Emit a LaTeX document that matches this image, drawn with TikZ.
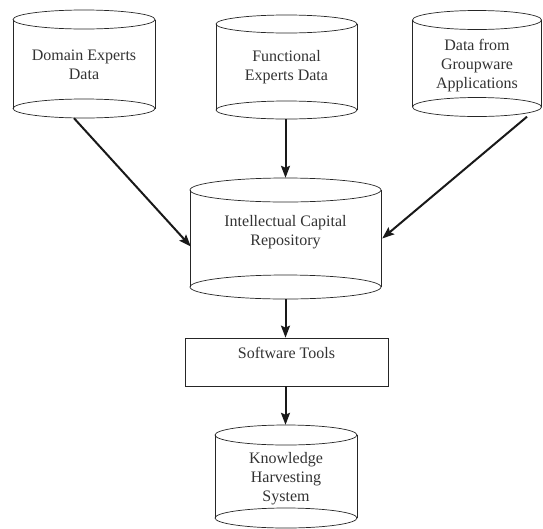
\documentclass[tikz,border=0pt]{standalone}
\usepackage{fontspec}
\setmainfont{Liberation Serif}
\usetikzlibrary{arrows.meta,calc}
\tikzset{
  cylbox/.style={draw=none, rectangle, inner sep=0pt},
  cylline/.style={draw=black!85, line width=0.7pt},
  lbl/.style={font=\fontsize{16}{19}\selectfont, align=center, text=black!80, inner sep=0pt},
  boxnode/.style={draw=black!85, line width=0.7pt, rectangle, inner sep=0pt},
  arr/.style={-{Stealth[length=12pt,width=9pt,inset=2pt]}, line width=2pt, draw=black!90},
}
% name, cx, top cy, bottom cy, rx, ry
\newcommand\dbcyl[6]{%
  \node[cylbox, minimum width={2*#5*1pt}, minimum height={(#4-#3+2*#6)*1pt}] (#1) at (#2,{(#3+#4)/2}) {};
  \draw[cylline] (#2,#3) ellipse[x radius=#5pt, y radius=#6pt];
  \draw[cylline] (#2,#4) ellipse[x radius=#5pt, y radius=#6pt];
  \draw[cylline] (#2-#5,#3) -- (#2-#5,#4) (#2+#5,#3) -- (#2+#5,#4);
}
\begin{document}
\begin{tikzpicture}[x=1pt,y=-1pt]
\useasboundingbox (0,0) rectangle (543,528);
\fill[white] (0,0) rectangle (543,528);

\dbcyl{dom}{84}{19.5}{108.5}{71}{9.5}
\node[lbl] (dom-t) at (84,64.5) {Domain Experts\\Data};

\dbcyl{fun}{286.5}{24}{110}{70.5}{9}
\node[lbl] (fun-t) at (286.5,67) {Functional\\Experts Data};

\dbcyl{gw}{477}{20}{107}{64.5}{9.5}
\node[lbl] (gw-t) at (477,66) {Data from\\Groupware\\Applications};

\dbcyl{ic}{285.5}{190}{287}{95.5}{12}
\node[lbl] (ic-t) at (285.5,232.5) {Intellectual Capital\\Repository};

\node[boxnode, minimum width=203pt, minimum height=48pt] (st) at (286.5,362) {};
\node[lbl] (st-t) at (286.5,353) {Software Tools};

\dbcyl{kh}{286}{435}{518}{71}{10}
\node[lbl] (kh-t) at (286,479) {Knowledge\\Harvesting\\System};

\draw[arr] ($(dom.south)+(-10,0)$) -- ($(ic.west)+(1,8)$);
\draw[arr] (fun.south -| ic.north) -- (ic.north);
\draw[arr] ($(gw.south)+(50,0)$) -- ($(ic.east)+(1,0)$);
\draw[arr] (ic.south) -- (st.north -| ic.south);
\draw[arr] (st.south -| ic.south) -- (kh.north -| ic.south);
\end{tikzpicture}
\end{document}
